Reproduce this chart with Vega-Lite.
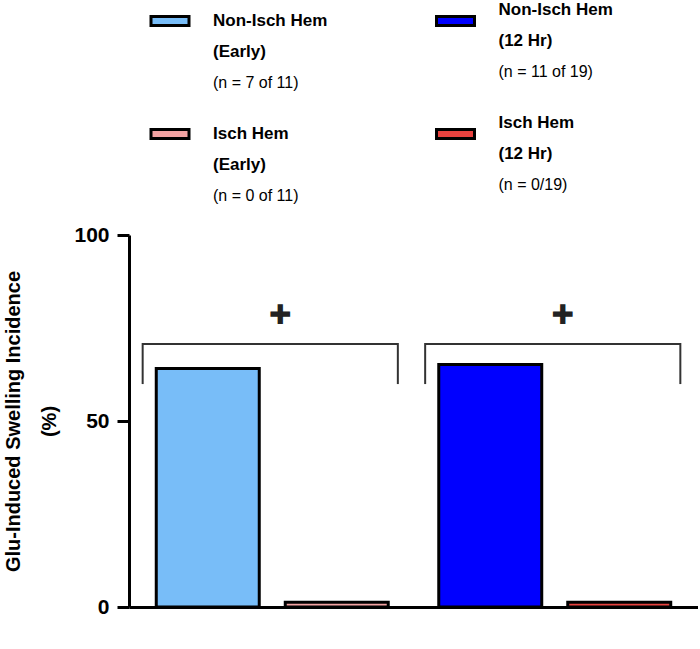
{
  "$schema": "https://vega.github.io/schema/vega-lite/v6.json",
  "padding": {"left": 3, "top": 0, "right": 0, "bottom": 0},
  "spacing": 20,
  "bounds": "flush",
  "config": {"view": {"stroke": null}, "font": "Liberation Sans"},
  "resolve": {"scale": {"color": "shared"}},
  "datasets": {
    "bars": [
      {"time": "Early", "hem": "Non-Isch Hem", "series": "Non-Isch Hem (Early)", "value": 64.1},
      {"time": "Early", "hem": "Isch Hem", "series": "Isch Hem (Early)", "value": 1.3},
      {"time": "12 Hr", "hem": "Non-Isch Hem", "series": "Non-Isch Hem (12 Hr)", "value": 65.2},
      {"time": "12 Hr", "hem": "Isch Hem", "series": "Isch Hem (12 Hr)", "value": 1.3}
    ],
    "brackets": [
      {"time": "Early", "top": 70.7, "leg": 60.2, "sig": 78.2, "mark": "✚"},
      {"time": "12 Hr", "top": 70.7, "leg": 60.2, "sig": 78.2, "mark": "✚"}
    ],
    "legend": [
      {"col": 0, "row": 0, "series": "Non-Isch Hem (Early)", "title": ["Non-Isch Hem", "(Early)"], "n": "(n = 7 of 11)"},
      {"col": 1, "row": 0, "series": "Non-Isch Hem (12 Hr)", "title": ["Non-Isch Hem", "(12 Hr)"], "n": "(n = 11 of 19)"},
      {"col": 0, "row": 1, "series": "Isch Hem (Early)", "title": ["Isch Hem", "(Early)"], "n": "(n = 0 of 11)"},
      {"col": 1, "row": 1, "series": "Isch Hem (12 Hr)", "title": ["Isch Hem", "(12 Hr)"], "n": "(n = 0/19)"}
    ]
  },
  "vconcat": [
    {
      "width": 569,
      "height": 215,
      "data": {"name": "legend"},
      "encoding": {
        "x": {"field": "col", "type": "quantitative", "scale": {"domain": [0, 1], "range": [41, 326.5]}, "axis": null},
        "y": {"field": "row", "type": "quantitative", "scale": {"domain": [0, 1], "range": [21, 134]}, "axis": null}
      },
      "layer": [
        {
          "transform": [{"filter": "datum.col == 0"}],
          "mark": {"type": "point", "shape": "M-1.9,-0.45H1.9V0.45H-1.9Z", "filled": true, "size": 400, "stroke": "black", "strokeWidth": 3, "opacity": 1, "dy": -2.5},
          "encoding": {"color": {"field": "series", "type": "nominal", "legend": null}}
        },
        {
          "transform": [{"filter": "datum.col == 1"}],
          "mark": {"type": "point", "shape": "M-1.9,-0.45H1.9V0.45H-1.9Z", "filled": true, "size": 400, "stroke": "black", "strokeWidth": 3, "opacity": 1, "dy": 0.5},
          "encoding": {"color": {"field": "series", "type": "nominal", "legend": null}}
        },
        {
          "transform": [{"filter": "datum.col == 0"}],
          "mark": {"type": "text", "align": "left", "baseline": "middle", "dx": 43, "fontSize": 17, "fontWeight": "bold", "lineBreak": "\n", "lineHeight": 31, "color": "black"},
          "encoding": {"text": {"field": "title", "type": "nominal"}}
        },
        {
          "transform": [{"filter": "datum.col == 1"}],
          "mark": {"type": "text", "align": "left", "baseline": "middle", "dx": 43, "dy": -11.5, "fontSize": 17, "fontWeight": "bold", "lineBreak": "\n", "lineHeight": 31, "color": "black"},
          "encoding": {"text": {"field": "title", "type": "nominal"}}
        },
        {
          "transform": [{"filter": "datum.col == 0"}],
          "mark": {"type": "text", "align": "left", "baseline": "middle", "dx": 43, "dy": 61.5, "fontSize": 16, "color": "black"},
          "encoding": {"text": {"field": "n", "type": "nominal"}}
        },
        {
          "transform": [{"filter": "datum.col == 1"}],
          "mark": {"type": "text", "align": "left", "baseline": "middle", "dx": 43, "dy": 50.5, "fontSize": 16, "color": "black"},
          "encoding": {"text": {"field": "n", "type": "nominal"}}
        }
      ]
    },
    {
      "width": 569,
      "height": 372,
      "layer": [
        {
          "data": {"name": "bars"},
          "mark": {"type": "bar", "stroke": "black", "strokeWidth": 3},
          "encoding": {
            "x": {
              "field": "time", "type": "nominal", "sort": ["Early", "12 Hr"],
              "scale": {"paddingInner": 0.1788, "paddingOuter": 0.0965},
              "axis": {"labels": false, "ticks": false, "title": null, "domainWidth": 3, "domainColor": "black"}
            },
            "xOffset": {"field": "hem", "type": "nominal", "sort": ["Non-Isch Hem", "Isch Hem"], "scale": {"paddingInner": 0.2016, "paddingOuter": 0}},
            "y": {
              "field": "value", "type": "quantitative", "scale": {"domain": [0, 100]},
              "axis": {
                "values": [0, 50, 100],
                "title": ["Glu-Induced Swelling Incidence", "(%)"],
                "titleFont": "Liberation Sans", "titleFontSize": 20, "titleFontWeight": "bold", "titleLineHeight": 36, "titlePadding": 14, "titleColor": "black",
                "labelFont": "Liberation Sans", "labelFontSize": 21, "labelFontWeight": "bold", "labelColor": "black", "labelPadding": 8,
                "tickSize": 12, "tickWidth": 3, "tickColor": "black",
                "domainWidth": 3, "domainColor": "black", "grid": false
              }
            },
            "color": {
              "field": "series", "type": "nominal",
              "scale": {
                "domain": ["Non-Isch Hem (Early)", "Isch Hem (Early)", "Non-Isch Hem (12 Hr)", "Isch Hem (12 Hr)"],
                "range": ["#78BDF8", "#F4A3A3", "#0000FF", "#E8423F"]
              },
              "legend": null
            }
          }
        },
        {
          "data": {"name": "brackets"},
          "mark": {"type": "bar", "filled": false, "stroke": "#333333", "strokeWidth": 2, "width": {"band": 1.1}, "xOffset": -2},
          "encoding": {
            "x": {"field": "time", "type": "nominal", "sort": ["Early", "12 Hr"]},
            "y": {"field": "top", "type": "quantitative"},
            "y2": {"field": "top"}
          }
        },
        {
          "data": {"name": "brackets"},
          "mark": {"type": "rule", "stroke": "#333333", "strokeWidth": 2, "strokeCap": "square", "xOffset": -13.6},
          "encoding": {
            "x": {"field": "time", "type": "nominal", "sort": ["Early", "12 Hr"], "bandPosition": 0},
            "y": {"field": "top", "type": "quantitative"},
            "y2": {"field": "leg"}
          }
        },
        {
          "data": {"name": "brackets"},
          "mark": {"type": "rule", "stroke": "#333333", "strokeWidth": 2, "strokeCap": "square", "xOffset": 9.6},
          "encoding": {
            "x": {"field": "time", "type": "nominal", "sort": ["Early", "12 Hr"], "bandPosition": 1},
            "y": {"field": "top", "type": "quantitative"},
            "y2": {"field": "leg"}
          }
        },
        {
          "data": {"name": "brackets"},
          "mark": {"type": "text", "font": "DejaVu Sans", "fontSize": 27, "color": "#222222", "dx": 8, "baseline": "middle"},
          "encoding": {
            "x": {"field": "time", "type": "nominal", "sort": ["Early", "12 Hr"]},
            "y": {"field": "sig", "type": "quantitative"},
            "text": {"field": "mark", "type": "nominal"}
          }
        }
      ]
    }
  ]
}
